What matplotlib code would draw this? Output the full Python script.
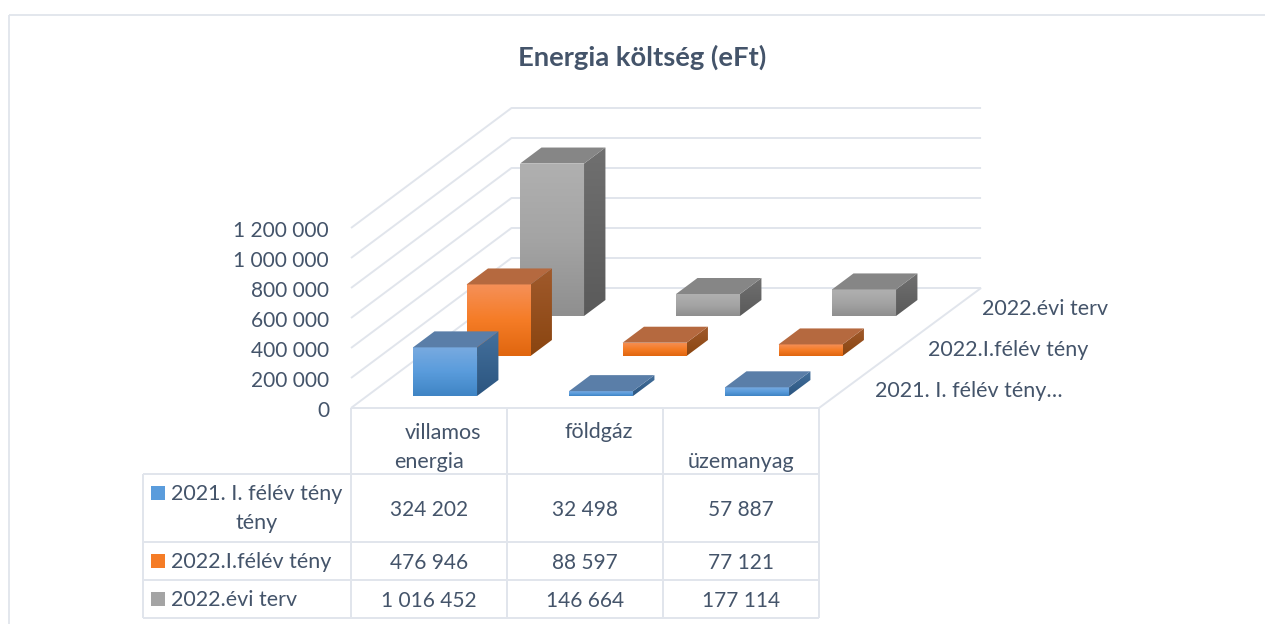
import numpy as np
import matplotlib
matplotlib.use("Agg")
import matplotlib.pyplot as plt
from matplotlib.patches import Polygon, Rectangle
from matplotlib.colors import to_rgb

plt.rcParams['font.family'] = ['Lato', 'DejaVu Sans']

# ---- data ----
title = "Energia költség (eFt)"
categories = ["villamos\nenergia", "földgáz", "üzemanyag"]
series_names = ["2021. I. félév tény", "2022.I.félév tény", "2022.évi terv"]
depth_labels = ["2021. I. félév tény…", "2022.I.félév tény", "2022.évi terv"]
values_2021_h1 = [324202, 32498, 57887]
values_2022_h1 = [476946, 88597, 77121]
values_2022_plan = [1016452, 146664, 177114]
y_ticks = [0, 200000, 400000, 600000, 800000, 1000000, 1200000]
all_values = [values_2021_h1, values_2022_h1, values_2022_plan]

# ---- styles ----
TXT = '#44546a'
GRID = '#e1e5ec'
FS = 15.5
FN = 15.0
front_cols = [('#78aae0', '#5a9cdc', '#3f84c4'),
              ('#f59058', '#f57c26', '#e0660f'),
              ('#b0b0b0', '#a4a4a4', '#8f8f8f')]
top_cols = ['#5a7ea8', '#b5693f', '#868686']
side_cols = [('#44709c', '#2b5580'), ('#a05a2c', '#8a4510'), ('#707070', '#5a5a5a')]

# ---- projection: oblique view of (category, series, value) to pixels ----
X0, Y0 = 351.0, 408.0
CW = 156.0
DX, DY = 53.5, 40.0
ZS = 30.0 / 200000
BAR_W = 0.41
BAR_D = 0.40


def proj(c, s, z=0.0):
    return X0 + CW * c + DX * s, Y0 - DY * s - ZS * z


def fmt(v):
    return f"{v:,}".replace(",", " ")


fig = plt.figure(figsize=(12.65, 6.24), dpi=100, facecolor='white')
ax = fig.add_axes([0, 0, 1, 1])
ax.set_xlim(0, 1265)
ax.set_ylim(624, 0)
ax.axis('off')
ax.set_autoscale_on(False)


def gline(xs, ys, lw=1.4, z=1):
    ax.plot(xs, ys, color=GRID, lw=lw, zorder=z, solid_capstyle='butt')


# outer frame (only top and left visible)
gline([9, 1265], [15, 15], 1.3)
gline([9, 9], [15, 624], 1.3)

# walls and floor
for t in y_ticks:
    a = proj(0, 0, t)
    b = proj(0, 3, t)
    c = proj(3.01, 3, t)
    gline([a[0], b[0], c[0]], [a[1], b[1], c[1]])
    ax.text(329, a[1] + 3, fmt(t), ha='right', va='center', color=TXT, fontsize=FN)
p0, p1 = proj(3, 0), proj(3.01, 3)
gline([p0[0], p1[0]], [p0[1], p1[1]])
gline([X0, p0[0]], [Y0, Y0])


def grad_poly(pts, stops, z):
    pts = np.array(pts)
    rgb = [to_rgb(s) for s in stops]
    tt = np.linspace(0, 1, 64)
    pos = np.linspace(0, 1, len(rgb))
    arr = np.stack([np.interp(tt, pos, [c[i] for c in rgb]) for i in range(3)], axis=1)[:, None, :]
    x0, x1, y0, y1 = pts[:, 0].min(), pts[:, 0].max(), pts[:, 1].min(), pts[:, 1].max()
    im = ax.imshow(arr, extent=(x0, x1, y1, y0), origin='upper', aspect='auto',
                   interpolation='bilinear', zorder=z)
    clip = Polygon(pts, closed=True, transform=ax.transData)
    im.set_clip_path(clip)


# bars, back series first
zo = 5
for s in range(2, -1, -1):
    for c in range(3):
        v = all_values[s][c]
        cl = c + 0.5 - BAR_W / 2
        cr = c + 0.5 + BAR_W / 2
        sf = s + 0.5 - BAR_D / 2
        sb = s + 0.5 + BAR_D / 2
        fbl, fbr = proj(cl, sf), proj(cr, sf)
        ftl, ftr = proj(cl, sf, v), proj(cr, sf, v)
        bbr = proj(cr, sb)
        btl, btr = proj(cl, sb, v), proj(cr, sb, v)
        grad_poly([fbl, fbr, ftr, ftl], front_cols[s], zo)
        grad_poly([fbr, bbr, btr, ftr], side_cols[s], zo + 0.1)
        ax.add_patch(Polygon([ftl, ftr, btr, btl], closed=True, fc=top_cols[s], ec='none', zorder=zo + 0.2))
        zo += 1

# depth axis labels
depth_x = [875, 928, 982]
for s, lab in enumerate(depth_labels):
    ax.text(depth_x[s], 391 - 41 * s, lab, ha='left', va='center', color=TXT, fontsize=FS)

# data table grid
row_y = [408, 474, 542, 580, 618]
col_x = [proj(i, 0)[0] for i in range(4)]
TL = 143
for y in row_y[1:]:
    gline([TL, col_x[-1]], [y, y])
for x in col_x:
    gline([x, x], [row_y[0], row_y[-1]])
gline([TL, TL], [row_y[1], row_y[-1]])

# table text
ax.text(443, 433, "villamos", ha='center', va='center', color=TXT, fontsize=FS)
ax.text(429, 462, "energia", ha='center', va='center', color=TXT, fontsize=FS)
ax.text(599, 432, categories[1], ha='center', va='center', color=TXT, fontsize=FS)
ax.text(741, 462, categories[2], ha='center', va='center', color=TXT, fontsize=FS)

row_cy = [510, 563, 601]
label_y = [494, 562, 600]
swatch_y = [493, 560.5, 599]
for s in range(3):
    ax.text(171, label_y[s], series_names[s], ha='left', va='center', color=TXT, fontsize=FS)
    ax.add_patch(Rectangle((151, swatch_y[s] - 7), 14, 14, fc=front_cols[s][1], ec='none', zorder=3))
    for c in range(3):
        ax.text(proj(c + 0.5, 0)[0], row_cy[s], fmt(all_values[s][c]), ha='center', va='center',
                color=TXT, fontsize=FN)
ax.text(257, 523, "tény", ha='center', va='center', color=TXT, fontsize=FS)

ax.text(642, 57, title, ha='center', va='center', color=TXT, fontsize=19.7, fontweight='bold')

fig.savefig('out.png', dpi=100)
